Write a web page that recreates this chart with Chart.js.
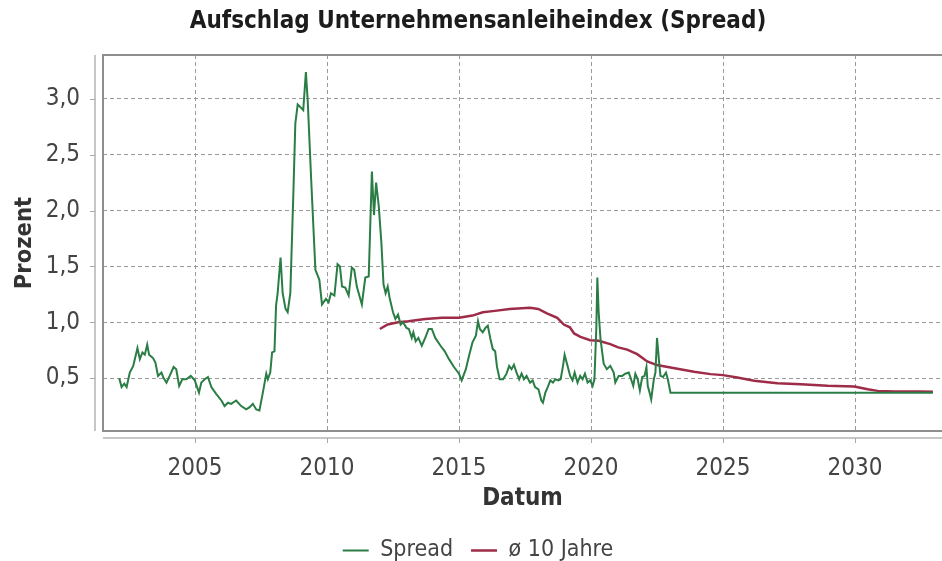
<!DOCTYPE html>
<html>
<head>
<meta charset="utf-8">
<script src="https://cdn.jsdelivr.net/npm/chart.js@4.4.1/dist/chart.umd.min.js"></script>
<style>
  html, body { margin: 0; padding: 0; background: #ffffff; }
  #c { display: block; }
</style>
</head>
<body>
<canvas id="c" width="942" height="561"></canvas>
<script>
// ---- Data ----
const spreadDates = [
  2002.13, 2002.22, 2002.32, 2002.41, 2002.53, 2002.66, 2002.82, 2002.91, 2003.01, 2003.10,
  2003.19, 2003.26, 2003.41, 2003.50, 2003.60, 2003.73, 2003.81, 2003.92, 2004.04, 2004.19,
  2004.29, 2004.40, 2004.52, 2004.67, 2004.84, 2004.99, 2005.15, 2005.24, 2005.37, 2005.49,
  2005.62, 2005.80, 2006.00, 2006.12, 2006.25, 2006.37, 2006.56, 2006.75, 2006.94, 2007.07,
  2007.19, 2007.32, 2007.44, 2007.57, 2007.70, 2007.76, 2007.85, 2007.92, 2008.01, 2008.07,
  2008.13, 2008.24, 2008.32, 2008.43, 2008.51, 2008.61, 2008.73, 2008.80, 2008.89, 2009.02,
  2009.10, 2009.20, 2009.27, 2009.40, 2009.56, 2009.71, 2009.81, 2009.96, 2010.06, 2010.15,
  2010.28, 2010.40, 2010.49, 2010.57, 2010.69, 2010.82, 2010.94, 2011.03, 2011.13, 2011.32,
  2011.45, 2011.58, 2011.70, 2011.78, 2011.86, 2011.96, 2012.06, 2012.14, 2012.22, 2012.30,
  2012.37, 2012.50, 2012.59, 2012.69, 2012.79, 2012.88, 2013.01, 2013.10, 2013.21, 2013.27,
  2013.36, 2013.46, 2013.59, 2013.72, 2013.85, 2013.97, 2014.10, 2014.30, 2014.46, 2014.62,
  2014.81, 2015.00, 2015.10, 2015.26, 2015.38, 2015.51, 2015.64, 2015.72, 2015.79, 2015.90,
  2016.00, 2016.09, 2016.19, 2016.28, 2016.37, 2016.44, 2016.54, 2016.67, 2016.80, 2016.90,
  2016.99, 2017.08, 2017.18, 2017.28, 2017.37, 2017.46, 2017.56, 2017.69, 2017.79, 2017.88,
  2018.01, 2018.12, 2018.18, 2018.27, 2018.36, 2018.46, 2018.56, 2018.65, 2018.76, 2018.85,
  2018.94, 2019.00, 2019.10, 2019.21, 2019.30, 2019.38, 2019.49, 2019.59, 2019.68, 2019.77,
  2019.87, 2019.97, 2020.06, 2020.13, 2020.20, 2020.24, 2020.29, 2020.36, 2020.48, 2020.60,
  2020.73, 2020.86, 2020.92, 2021.05, 2021.18, 2021.30, 2021.43, 2021.49, 2021.60, 2021.68,
  2021.77, 2021.85, 2021.94, 2022.03, 2022.10, 2022.15, 2022.23, 2022.28, 2022.38, 2022.44,
  2022.50, 2022.57, 2022.63, 2022.73, 2022.84, 2022.91, 2023.01, 2025.00, 2027.00, 2029.00,
  2031.00, 2032.95
];
const spreadValues = [
  0.50, 0.42, 0.45, 0.42, 0.55, 0.61, 0.77, 0.67, 0.73, 0.71,
  0.80, 0.71, 0.68, 0.64, 0.52, 0.55, 0.50, 0.46, 0.52, 0.60,
  0.58, 0.43, 0.49, 0.49, 0.52, 0.48, 0.37, 0.46, 0.49, 0.51,
  0.42, 0.36, 0.30, 0.25, 0.28, 0.27, 0.30, 0.25, 0.22, 0.24,
  0.27, 0.22, 0.21, 0.37, 0.54, 0.49, 0.55, 0.73, 0.74, 1.15,
  1.26, 1.58, 1.26, 1.12, 1.09, 1.26, 2.19, 2.78, 2.95, 2.92,
  2.90, 3.24, 2.98, 2.28, 1.47, 1.38, 1.16, 1.21, 1.18, 1.26,
  1.24, 1.52, 1.50, 1.32, 1.31, 1.24, 1.49, 1.47, 1.32, 1.16,
  1.40, 1.41, 2.35, 1.96, 2.25, 2.04, 1.71, 1.34, 1.26, 1.32,
  1.22, 1.09, 1.03, 1.07, 0.98, 1.00, 0.95, 0.94, 0.86, 0.91,
  0.83, 0.86, 0.79, 0.86, 0.94, 0.94, 0.86, 0.79, 0.74, 0.67,
  0.60, 0.54, 0.48, 0.58, 0.70, 0.82, 0.88, 1.01, 0.94, 0.91,
  0.95, 0.97, 0.85, 0.76, 0.74, 0.60, 0.49, 0.49, 0.54, 0.61,
  0.58, 0.62, 0.55, 0.49, 0.54, 0.49, 0.52, 0.46, 0.48, 0.42,
  0.40, 0.30, 0.28, 0.37, 0.42, 0.48, 0.46, 0.49, 0.48, 0.49,
  0.61, 0.71, 0.62, 0.52, 0.48, 0.55, 0.46, 0.52, 0.49, 0.54,
  0.46, 0.48, 0.43, 0.49, 0.94, 1.40, 1.09, 0.85, 0.63, 0.58,
  0.61, 0.55, 0.46, 0.52, 0.52, 0.54, 0.55, 0.51, 0.43, 0.54,
  0.49, 0.39, 0.51, 0.52, 0.60, 0.43, 0.36, 0.31, 0.49, 0.55,
  0.86, 0.67, 0.52, 0.51, 0.55, 0.49, 0.37, 0.37, 0.37, 0.37,
  0.37, 0.37
];
const avgDates = [
  2012.00, 2012.30, 2012.69, 2013.08, 2013.72, 2014.36, 2015.00, 2015.51, 2015.90, 2016.28,
  2016.92, 2017.69, 2018.00, 2018.33, 2018.72, 2018.97, 2019.20, 2019.36, 2019.60, 2019.97,
  2020.29, 2020.73, 2021.03, 2021.37, 2021.75, 2022.13, 2022.50, 2023.01, 2023.90, 2024.53,
  2025.00, 2025.54, 2026.18, 2027.06, 2027.95, 2028.96, 2029.97, 2030.48, 2030.86, 2031.50,
  2032.44, 2032.95
];
const avgValues = [
  0.94, 0.98, 1.00, 1.01, 1.03, 1.04, 1.04, 1.06, 1.09, 1.10,
  1.12, 1.13, 1.12, 1.08, 1.04, 0.98, 0.955, 0.90, 0.87, 0.84,
  0.835, 0.805, 0.775, 0.755, 0.715, 0.65, 0.617, 0.596, 0.557, 0.536,
  0.527, 0.506, 0.476, 0.455, 0.446, 0.431, 0.425, 0.40, 0.386, 0.38,
  0.38, 0.378
];
const xTicks = [2005, 2010, 2015, 2020, 2025, 2030];
const yTicks = [0.5, 1.0, 1.5, 2.0, 2.5, 3.0];
const seriesNames = ['Spread', '\u00f8 10 Jahre'];
const chartTitle = 'Aufschlag Unternehmensanleiheindex (Spread)';
const xTitle = 'Datum';
const yTitle = 'Prozent';

// ---- Styling ----
const FONT = "'DejaVu Sans Condensed', 'DejaVu Sans', sans-serif";
const GREEN = '#2a7d45';
const RED = '#9e2b47';

const toPoints = (xs, ys) => xs.map((x, i) => ({ x: x, y: ys[i] }));

const framePlugin = {
  id: 'frameAxes',
  beforeDatasetsDraw(chart) {
    const { ctx, chartArea: a } = chart;
    ctx.save();
    ctx.strokeStyle = '#8e8e8e';
    ctx.lineWidth = 2;
    ctx.beginPath();
    ctx.moveTo(a.right + 2, a.top);
    ctx.lineTo(a.left, a.top);
    ctx.lineTo(a.left, a.bottom);
    ctx.lineTo(a.right + 2, a.bottom);
    ctx.stroke();
    ctx.restore();
  },
  afterDraw(chart) {
    const { ctx, chartArea: a, scales } = chart;
    ctx.save();
    const yx = a.left - 8;
    ctx.strokeStyle = '#c6c6c6';
    ctx.lineWidth = 2;
    ctx.beginPath();
    ctx.moveTo(yx, a.top);
    ctx.lineTo(yx, a.bottom);
    ctx.stroke();
    const xy = a.bottom + 7;
    ctx.beginPath();
    ctx.moveTo(a.left, xy);
    ctx.lineTo(a.right, xy);
    ctx.stroke();
    ctx.strokeStyle = '#a8a8a8';
    ctx.lineWidth = 1;
    ctx.beginPath();
    yTicks.forEach(v => {
      const p = Math.round(scales.y.getPixelForValue(v)) + 0.5;
      ctx.moveTo(yx - 5, p);
      ctx.lineTo(yx, p);
    });
    xTicks.forEach(v => {
      const p = Math.round(scales.x.getPixelForValue(v)) + 0.5;
      ctx.moveTo(p, xy);
      ctx.lineTo(p, xy + 5);
    });
    ctx.stroke();
    ctx.restore();
  }
};

new Chart(document.getElementById('c'), {
  type: 'line',
  data: {
    datasets: [
      {
        label: seriesNames[0],
        data: toPoints(spreadDates, spreadValues),
        borderColor: GREEN,
        backgroundColor: GREEN,
        borderWidth: 2,
        pointRadius: 0,
        tension: 0,
        fill: false
      },
      {
        label: seriesNames[1],
        data: toPoints(avgDates, avgValues),
        borderColor: RED,
        backgroundColor: RED,
        borderWidth: 2.5,
        pointRadius: 0,
        tension: 0,
        fill: false
      }
    ]
  },
  options: {
    responsive: false,
    animation: false,
    devicePixelRatio: 1,
    layout: { padding: { left: 14, right: 0, top: 0, bottom: -11 } },
    plugins: {
      title: {
        display: true,
        text: chartTitle,
        color: '#1c1c1c',
        font: { family: FONT, size: 24, weight: 'bold' },
        padding: { top: 7, bottom: 19.2 }
      },
      legend: {
        display: true,
        position: 'bottom',
        labels: {
          usePointStyle: true,
          pointStyle: 'line',
          pointStyleWidth: 26,
          padding: 18,
          color: '#444444',
          font: { family: FONT, size: 23 }
        }
      },
      tooltip: { enabled: false }
    },
    scales: {
      x: {
        type: 'linear',
        min: 2001.515,
        max: 2033.295,
        afterBuildTicks: (s) => { s.ticks = xTicks.map(v => ({ value: v })); },
        afterFit: (s) => { s.height = 90; },
        ticks: {
          padding: 23.6,
          maxRotation: 0,
          autoSkip: false,
          color: '#444444',
          font: { family: FONT, size: 24 },
          callback: (v) => String(v)
        },
        grid: { color: '#9a9a9a', lineWidth: 1, drawTicks: false },
        border: { display: false, dash: [4, 3] },
        title: {
          display: true,
          text: xTitle,
          color: '#333333',
          font: { family: FONT, size: 24, weight: 'bold' },
          padding: { top: 0, bottom: 7.6 }
        }
      },
      y: {
        type: 'linear',
        min: 0.0268,
        max: 3.393,
        afterBuildTicks: (s) => { s.ticks = yTicks.map(v => ({ value: v })); },
        afterFit: (s) => { s.width = 89; },
        ticks: {
          padding: 23,
          color: '#444444',
          font: { family: FONT, size: 24 },
          callback: (v) => Number(v).toFixed(1).replace('.', ',')
        },
        grid: { color: '#9a9a9a', lineWidth: 1, drawTicks: false },
        border: { display: false, dash: [4, 3] },
        title: {
          display: true,
          text: yTitle,
          color: '#333333',
          font: { family: FONT, size: 23.5, weight: 'bold' },
          padding: { top: -3, bottom: 0 }
        }
      }
    }
  },
  plugins: [framePlugin]
});
</script>
</body>
</html>
